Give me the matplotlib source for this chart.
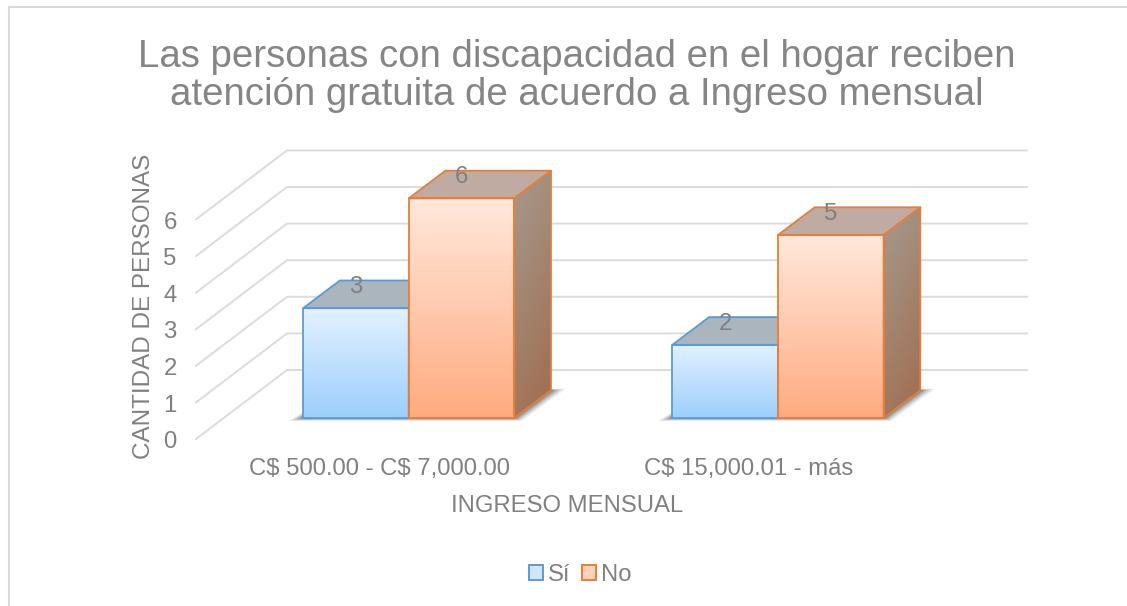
#!/usr/bin/env python3
# -*- coding: utf-8 -*-
import matplotlib
matplotlib.use("Agg")
import matplotlib.pyplot as plt
from matplotlib.patches import Polygon, Patch
from matplotlib.colors import LinearSegmentedColormap
import numpy as np

categories = ["C$ 500.00 - C$ 7,000.00", "C$ 15,000.01 - más"]
si_values = [3, 2]
no_values = [6, 5]
y_ticks = [0, 1, 2, 3, 4, 5, 6]
series_names = ["Sí", "No"]

title = "Las personas con discapacidad en el hogar reciben\natención gratuita de acuerdo a Ingreso mensual"
x_title = "INGRESO MENSUAL"
y_title = "CANTIDAD DE PERSONAS"

plt.rcParams["font.family"] = ["Liberation Sans", "DejaVu Sans"]
plt.rcParams["text.parse_math"] = False

# scale of the front plane of the bars, in pixels
PX_X = 369.3
PX_Y = 36.6
X0 = 408.7
Y0 = 418.0
W, H = 1127, 606
TXT = "#808080"
FS = 17.2

bar_w = 105.6 / PX_X
depth_x = 36.7 / PX_X
depth_y = 27.7 / PX_Y
wall_x0 = (196 - X0) / PX_X
wall_y0 = (Y0 - 439) / PX_Y
wall_x1 = (287 - X0) / PX_X
wall_y1 = (Y0 - 370) / PX_Y
wall_x2 = (1027 - X0) / PX_X

fig = plt.figure(figsize=(W / 100, H / 100), dpi=100)
ax = fig.add_axes([0, 0, 1, 1])
ax.axis("off")
xlim = (-X0 / PX_X, (W - X0) / PX_X)
ylim = ((Y0 - H) / PX_Y, Y0 / PX_Y)


def gradient(corners, c_from, c_to, diagonal=False, z=3):
    xs = [c[0] for c in corners]
    ys = [c[1] for c in corners]
    g = np.linspace(0, 1, 128)
    if diagonal:
        img = (g[:, None] * 0.75 + g[None, :] * 0.25)
    else:
        img = np.repeat(g[:, None], 2, axis=1)
    cmap = LinearSegmentedColormap.from_list("g", [c_from, c_to])
    im = ax.imshow(img, cmap=cmap, vmin=0, vmax=1, aspect="auto", origin="upper",
                   extent=(min(xs), max(xs), min(ys), max(ys)), zorder=z,
                   interpolation="bilinear")
    clip = Polygon(corners, closed=True, transform=ax.transData, fill=False, ec="none")
    ax.add_patch(clip)
    im.set_clip_path(clip)


def draw_shadow(left, right):
    # soft shadow on the floor, under the whole group
    for grow, a in [(1.0, 0.08), (0.8, 0.12), (0.6, 0.16), (0.4, 0.2), (0.2, 0.25)]:
        gx = grow * 15 / PX_X
        gy = grow * 3 / PX_Y
        ax.add_patch(Polygon([(left - gx, -gy), (right + gx * 0.5, -gy),
                              (right + depth_x + gx, depth_y + gy * 0.5),
                              (left + depth_x, depth_y)],
                             closed=True, fc="#3a3a3a", ec="none", alpha=a, zorder=1.5))


def draw_bar(left, value, front_top, front_bottom, top_col, side_top, side_bottom, edge, z):
    right = left + bar_w
    front = [(left, 0), (right, 0), (right, value), (left, value)]
    side = [(right, 0), (right + depth_x, depth_y), (right + depth_x, value + depth_y), (right, value)]
    top = [(left, value), (right, value), (right + depth_x, value + depth_y), (left + depth_x, value + depth_y)]
    gradient(side, side_top, side_bottom, diagonal=True, z=2 + z)
    ax.add_patch(Polygon(top, closed=True, fc=top_col, ec="none", zorder=2 + z))
    gradient(front, front_top, front_bottom, z=2.1 + z)
    for poly in (side, top, front):
        ax.add_patch(Polygon(poly, closed=True, fc="none", ec=edge, lw=1.3, joinstyle="round",
                             zorder=2.2 + z))
    ax.text(left + bar_w / 2, value + 0.58, str(value), ha="center", va="center",
            fontsize=FS, color=TXT, zorder=8)


# back wall and side wall gridlines
for v in y_ticks:
    ax.plot([wall_x0, wall_x1, wall_x2], [wall_y0 + v, wall_y1 + v, wall_y1 + v],
            color="#dcdcdc", lw=1.4, zorder=1, solid_joinstyle="miter")
    ax.text(wall_x0 - 26 / PX_X, wall_y0 + v - 0.09, str(v), ha="center", va="center",
            fontsize=FS, color=TXT)

for i in range(len(categories)):
    draw_shadow(i - bar_w, i + bar_w)
    draw_bar(i - bar_w, si_values[i], "#e2f1ff", "#9dcffb", "#aab5be",
             "#9a9a96", "#6f7f8c", "#5b9bd5", 0)
    draw_bar(i, no_values[i], "#ffe8dc", "#ffab80", "#bfaba2",
             "#a59a8e", "#a06c4e", "#e67e3a", 1)
    ax.text(i - 29.5 / PX_X, (Y0 - 469) / PX_Y, categories[i], ha="center", va="center",
            fontsize=FS, color=TXT)

ax.text((567 - X0) / PX_X, (Y0 - 506.5) / PX_Y, x_title, ha="center", va="center",
        fontsize=FS, color=TXT)
ax.text((144 - X0) / PX_X, (Y0 - 306) / PX_Y, y_title, ha="center", va="center",
        rotation=90, fontsize=FS + 0.3, color=TXT)
ax.text((577 - X0) / PX_X, (Y0 - 76) / PX_Y, title, ha="center", va="center",
        fontsize=27.6, color="#858585", linespacing=1.05)

# chart frame, runs off the right and the bottom of the picture
ax.plot([(8.5 - X0) / PX_X, (8.5 - X0) / PX_X, xlim[1]],
        [ylim[0], (Y0 - 7) / PX_Y, (Y0 - 7) / PX_Y], color="#d9d9d9", lw=1.5, zorder=0)

handles = [Patch(fc="#cfe6fc", ec="#5b9bd5", lw=1.4), Patch(fc="#ffd2bb", ec="#ed7d31", lw=1.4)]
ax.legend(handles, series_names, loc="center", bbox_to_anchor=(580 / W, 1 - 575 / H),
          bbox_transform=fig.transFigure, ncol=2, frameon=False, fontsize=FS,
          labelcolor=TXT, handlelength=0.58, handleheight=0.58, handletextpad=0.2,
          columnspacing=0.5, borderpad=0)

ax.set_xlim(*xlim)
ax.set_ylim(*ylim)
fig.savefig("out.png", dpi=100, facecolor="white")
